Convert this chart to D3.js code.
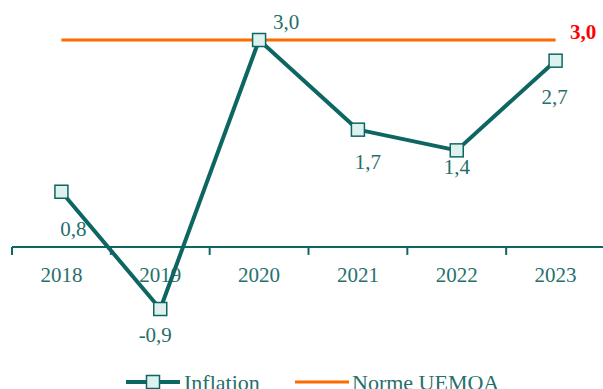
<!DOCTYPE html>
<html>
<head>
<meta charset="utf-8">
<script src="https://cdn.jsdelivr.net/npm/d3@7/dist/d3.min.js"></script>
<style>
  html, body { margin: 0; padding: 0; background: #fff; }
  svg { display: block; }
  text { font-family: "Liberation Serif", "DejaVu Serif", serif; }
</style>
</head>
<body>
<svg id="chart" width="603" height="389"></svg>
<script>
// Inflation rate (%) and the UEMOA convergence ceiling
const years = ["2018", "2019", "2020", "2021", "2022", "2023"];
const inflation = [0.8, -0.9, 3.0, 1.7, 1.4, 2.7];
const normeUEMOA = [3.0, 3.0, 3.0, 3.0, 3.0, 3.0];
const seriesNames = ["Inflation", "Norme UEMOA"];

const teal = "#0E6663";
const textTeal = "#26706C";
const orange = "#FF6A00";
// French decimal comma, plain hyphen for negatives
const fmt = v => (v < 0 ? "-" : "") + Math.abs(v).toFixed(1).replace(".", ",");

const svg = d3.select("#chart");

const x = d3.scaleBand().domain(years).range([12, 605]).padding(0);
const y = d3.scaleLinear().domain([-0.9, 3.0]).range([309, 40]);
const cx = d => x(d) + x.bandwidth() / 2;

// category axis sitting on the zero line
const gAxis = svg.append("g").attr("transform", `translate(0,${y(0)})`);
gAxis.append("line")
  .attr("x1", 12).attr("x2", 603)
  .attr("stroke", teal).attr("stroke-width", 2);
// tick marks on category boundaries
gAxis.selectAll("line.tick")
  .data(years)
  .join("line")
  .attr("class", "tick")
  .attr("x1", d => x(d)).attr("x2", d => x(d))
  .attr("y1", 0).attr("y2", 8)
  .attr("stroke", teal).attr("stroke-width", 2);
gAxis.selectAll("text.lbl")
  .data(years)
  .join("text")
  .attr("class", "lbl")
  .attr("x", d => cx(d))
  .attr("y", 35)
  .attr("text-anchor", "middle")
  .attr("fill", textTeal)
  .attr("font-size", 21)
  .text(d => d);

// UEMOA ceiling
svg.append("path")
  .datum(normeUEMOA)
  .attr("fill", "none")
  .attr("stroke", orange)
  .attr("stroke-width", 3)
  .attr("d", d3.line().x((d, i) => cx(years[i])).y(d => y(d)));

svg.append("text")
  .attr("x", 570).attr("y", 39)
  .attr("fill", "#FF0000")
  .attr("font-weight", "bold")
  .attr("font-size", 21)
  .text(fmt(normeUEMOA[normeUEMOA.length - 1]));

// inflation series
svg.append("path")
  .datum(inflation)
  .attr("fill", "none")
  .attr("stroke", teal)
  .attr("stroke-width", 4)
  .attr("stroke-linejoin", "round")
  .attr("d", d3.line().x((d, i) => cx(years[i])).y(d => y(d)));

const ms = 13;
svg.selectAll("rect.mk")
  .data(inflation)
  .join("rect")
  .attr("class", "mk")
  .attr("x", (d, i) => cx(years[i]) - ms / 2)
  .attr("y", d => y(d) - ms / 2)
  .attr("width", ms).attr("height", ms)
  .attr("fill", "#DDF1EE")
  .attr("stroke", teal)
  .attr("stroke-width", 1.5);

// value labels: offsets per point
const labelOffsets = [[12, 44], [-5, 33], [27, -11], [10, 39], [0, 24], [-1, 43]];
svg.selectAll("text.val")
  .data(inflation)
  .join("text")
  .attr("class", "val")
  .attr("x", (d, i) => cx(years[i]) + labelOffsets[i][0])
  .attr("y", (d, i) => y(d) + labelOffsets[i][1])
  .attr("text-anchor", "middle")
  .attr("fill", textTeal)
  .attr("font-size", 21)
  .text(d => fmt(d));

// legend
const legend = svg.append("g").attr("transform", "translate(0,382)");
legend.append("line")
  .attr("x1", 126).attr("x2", 180)
  .attr("stroke", teal).attr("stroke-width", 4);
legend.append("rect")
  .attr("x", 153 - ms / 2).attr("y", -ms / 2)
  .attr("width", ms).attr("height", ms)
  .attr("fill", "#DDF1EE").attr("stroke", teal).attr("stroke-width", 1.5);
legend.append("text")
  .attr("x", 184).attr("y", 8)
  .attr("fill", textTeal).attr("font-size", 22)
  .text(seriesNames[0]);
legend.append("line")
  .attr("x1", 295).attr("x2", 349)
  .attr("stroke", orange).attr("stroke-width", 3);
legend.append("text")
  .attr("x", 352).attr("y", 8)
  .attr("fill", textTeal).attr("font-size", 22)
  .text(seriesNames[1]);
</script>
</body>
</html>
